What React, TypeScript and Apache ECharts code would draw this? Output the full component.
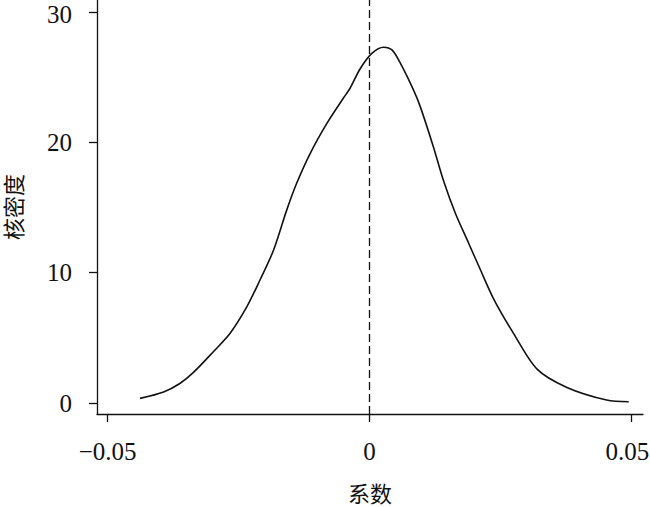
import React, { useEffect, useRef } from "react";
import * as echarts from "echarts";

const coefX = [
  -0.0438, -0.0393, -0.0362, -0.0336, -0.0298, -0.0266, -0.0234, -0.0209, -0.0183,
  -0.0158, -0.0139, -0.0113, -0.0081, -0.005, -0.0037, -0.0018, 0.0005, 0.0027,
  0.0043, 0.0059, 0.0084, 0.0097, 0.0122, 0.0141, 0.0164, 0.0189, 0.0211, 0.0237,
  0.0275, 0.032, 0.0377, 0.0453, 0.0495,
];
const densityY = [
  0.36, 0.85, 1.5, 2.35, 3.94, 5.35, 7.39, 9.44, 11.74,
  14.8, 16.86, 19.16, 21.47, 23.38, 24.15, 25.63, 26.84, 27.3,
  27.09, 26.07, 24.02, 22.74, 19.67, 17.11, 14.56, 12.3, 10.3, 8.0,
  5.35, 2.6, 1.2, 0.23, 0.1,
];
const xTicks = [-0.05, 0, 0.05];
const yTicks = [0, 10, 20, 30];
const refLineX = 0;

const SERIF = "'Liberation Serif', 'Times New Roman', 'Noto Sans CJK SC', serif";

export default function App() {
  const ref = useRef<HTMLDivElement>(null);
  useEffect(() => {
    if (!ref.current) return;
    const chart = echarts.init(ref.current, null, { renderer: "svg" });
    const data = coefX.map((x, i) => [x, densityY[i]]);
    const topY = yTicks[yTicks.length - 1];
    chart.setOption({
      animation: false,
      backgroundColor: "#ffffff",
      grid: { left: 97, right: 7, top: 0, bottom: 93, containLabel: false, outerBoundsMode: "none" },
      xAxis: {
        type: "value",
        min: -0.05202,
        max: 0.05223,
        name: "系数",
        nameLocation: "middle",
        nameGap: 69,
        nameTextStyle: { fontFamily: SERIF, fontSize: 22, color: "#111" },
        axisLine: { show: true, onZero: false, lineStyle: { color: "#111", width: 1.3 } },
        axisTick: { show: true, inside: false, length: 8, customValues: xTicks, lineStyle: { color: "#111", width: 1.3 } },
        axisLabel: {
          customValues: xTicks,
          margin: 25,
          fontFamily: SERIF,
          fontSize: 25,
          color: "#111",
          hideOverlap: false,
          formatter: (v: number) =>
            v === 0 ? "0" : v < 0 ? "\u2212" + String(-v) : "{r|" + String(v) + "}",
          rich: {
            r: { fontFamily: SERIF, fontSize: 25, color: "#111", padding: [0, 8, 0, 0] },
          },
        },
        splitLine: { show: false },
      },
      yAxis: {
        type: "value",
        min: -0.84,
        max: 30.92,
        name: "核密度",
        nameLocation: "middle",
        nameGap: 72,
        nameTextStyle: { fontFamily: SERIF, fontSize: 22, color: "#111" },
        axisLine: { show: true, onZero: false, lineStyle: { color: "#111", width: 1.3 } },
        axisTick: { show: true, inside: false, length: 8, customValues: yTicks, lineStyle: { color: "#111", width: 1.3 } },
        axisLabel: {
          customValues: yTicks,
          margin: 25,
          fontFamily: SERIF,
          fontSize: 25,
          color: "#111",
          formatter: (v: number) => (v === topY ? "{t|" + String(v) + "}" : String(v)),
          rich: {
            t: { fontFamily: SERIF, fontSize: 25, color: "#111", padding: [6, 0, 0, 0] },
          },
        },
        splitLine: { show: false },
      },
      series: [
        {
          type: "line",
          data,
          smooth: 0.3,
          showSymbol: false,
          symbol: "none",
          lineStyle: { color: "#111", width: 1.6 },
          markLine: {
            silent: true,
            symbol: "none",
            label: { show: false },
            lineStyle: { color: "#111", width: 1.3, type: [8, 4] },
            data: [{ xAxis: refLineX }],
          },
        },
      ],
    });
    return () => chart.dispose();
  }, []);
  return <div ref={ref} style={{ width: 650, height: 507, position: "absolute", left: 0, top: 0 }} />;
}
